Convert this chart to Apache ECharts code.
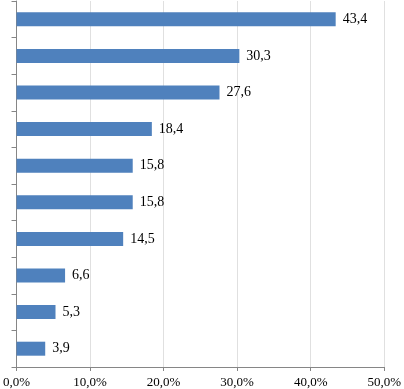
<!DOCTYPE html>
<html>
<head>
<meta charset="utf-8">
<script src="https://cdn.jsdelivr.net/npm/echarts@6/dist/echarts.min.js"></script>
<style>
  html, body { margin: 0; padding: 0; background: #fff; }
  #chart { width: 404px; height: 389px; }
</style>
</head>
<body>
<div id="chart"></div>
<script>
// categories are unlabeled in the reference, listed top to bottom
var categories = ['1', '2', '3', '4', '5', '6', '7', '8', '9', '10'];
var values = [43.4, 30.3, 27.6, 18.4, 15.8, 15.8, 14.5, 6.6, 5.3, 3.9];
var xTicks = [0, 10, 20, 30, 40, 50];

var fmt = function (v) { return v.toFixed(1).replace('.', ','); };

var myChart = echarts.init(document.getElementById('chart'));
var option = {
  animation: false,
  textStyle: { fontFamily: 'Liberation Serif' },
  grid: { left: 13, right: 16, top: 1, bottom: 22 },
  xAxis: {
    type: 'value',
    min: xTicks[0],
    max: xTicks[xTicks.length - 1],
    interval: 10,
    axisLine: { show: true, lineStyle: { color: '#868686' } },
    axisTick: { show: true, length: 4, lineStyle: { color: '#868686' } },
    splitLine: { show: true, lineStyle: { color: '#e0e0e0' } },
    axisLabel: {
      color: '#000',
      fontSize: 13,
      fontFamily: 'Liberation Serif',
      margin: 9,
      formatter: function (v) { return fmt(v) + '%'; }
    }
  },
  yAxis: {
    type: 'category',
    inverse: true,
    data: categories,
    axisLine: { show: true, lineStyle: { color: '#868686' } },
    axisTick: { show: true, length: 5, lineStyle: { color: '#868686' } },
    axisLabel: { show: false }
  },
  series: [{
    type: 'bar',
    data: values,
    barWidth: 14,
    itemStyle: { color: '#4f81bd' },
    label: {
      show: true,
      position: 'right',
      distance: 7,
      color: '#000',
      fontSize: 14,
      fontFamily: 'Liberation Serif',
      formatter: function (p) { return fmt(p.value); }
    }
  }]
};
myChart.setOption(option);
</script>
</body>
</html>
